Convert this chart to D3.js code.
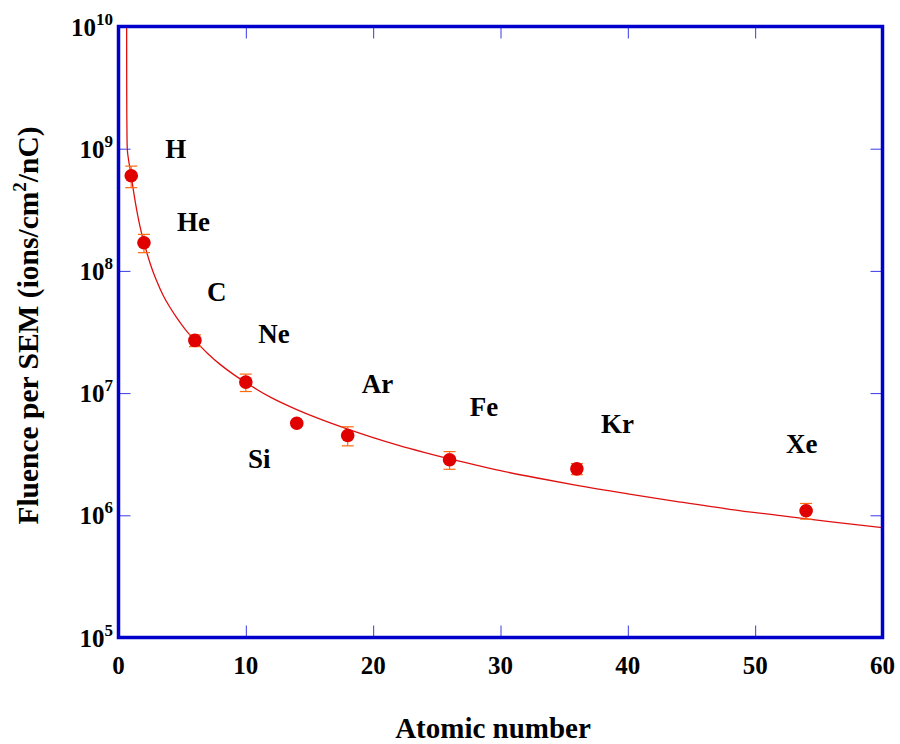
<!DOCTYPE html>
<html>
<head>
<meta charset="utf-8">
<script src="https://cdn.jsdelivr.net/npm/d3@7"></script>
<style>
  html, body { margin: 0; padding: 0; background: #fff; }
  svg { display: block; }
</style>
</head>
<body>
<svg id="chart" width="900" height="744" font-family="'Liberation Serif', 'Times New Roman', 'DejaVu Serif', serif" font-weight="bold"></svg>
<script>
// Measured fluence per SEM count for each ion species
const elements = ["H", "He", "C", "Ne", "Si", "Ar", "Fe", "Kr", "Xe"];
const atomicNumber = [1, 2, 6, 10, 14, 18, 26, 36, 54];
const fluence = [6.0e8, 1.7e8, 2.7e7, 1.23e7, 5.66e6, 4.5e6, 2.85e6, 2.4e6, 1.09e6];
const fluenceErr = [1.2e8, 0.29e8, 0.3e7, 0.2e7, 0, 0.8e6, 0.47e6, 0.25e6, 0.16e6];

// Where each element name sits (atomic number, fluence)
const labelZ = [4.49, 5.89, 7.72, 12.21, 11.06, 20.34, 28.7, 39.19, 53.66];
const labelF = [8.34e8, 2.12e8, 5.68e7, 2.58e7, 2.45e6, 9.95e6, 6.5e6, 4.69e6, 3.25e6];

// Fitted trend curve
const fitZ = [0.640, 0.642, 0.646, 0.654, 0.668, 0.69, 0.76, 0.88,
              1.0, 1.2, 1.5, 1.75, 2.0, 2.25, 2.5, 2.75, 3.0, 3.5,
              4.0, 4.5, 5.0, 5.5, 6, 7, 8, 9, 10, 12,
              14, 16, 18, 20, 22, 24, 26, 28, 30, 33,
              36, 40, 44, 48, 52, 56, 60];
const fitF = [1e10, 5.0e9, 2.82e9, 1.78e9, 1.26e9, 1.0e9, 8.51e8, 7.16e8,
              6.0e8, 4.35e8, 2.88e8, 2.17e8, 1.71e8, 1.38e8, 1.14e8, 9.62e7, 8.26e7, 6.32e7,
              5.11e7, 4.25e7, 3.59e7, 3.08e7, 2.70e7, 2.11e7, 1.71e7, 1.43e7, 1.22e7, 9.18e6,
              7.33e6, 6.04e6, 5.08e6, 4.33e6, 3.74e6, 3.28e6, 2.90e6, 2.59e6, 2.32e6, 2.01e6,
              1.76e6, 1.50e6, 1.29e6, 1.12e6, 9.93e5, 8.83e5, 7.93e5];

// Axis ticks
const xTicks = [0, 10, 20, 30, 40, 50, 60];
const yTickExp = [5, 6, 7, 8, 9, 10];

const svg = d3.select("#chart");
const plotL = 118.5, plotR = 882.5, plotT = 26.5, plotB = 637.5;

const x = d3.scaleLinear().domain([0, 60]).range([plotL, plotR]);
const y = d3.scaleLog().domain([1e5, 1e10]).range([plotB, plotT]);

const tickColor = "#3a3ae6";

// Inward tick marks on all four sides
const yTickVals = yTickExp.map(e => Math.pow(10, e));
function styleTicks(g) {
  g.select(".domain").remove();
  g.selectAll("line").attr("stroke", tickColor);
}
svg.append("g").attr("transform", `translate(${plotL},0)`)
  .call(d3.axisRight(y).tickValues(yTickVals).tickSize(12).tickFormat(""))
  .call(styleTicks);
svg.append("g").attr("transform", `translate(${plotR},0)`)
  .call(d3.axisLeft(y).tickValues(yTickVals).tickSize(12).tickFormat(""))
  .call(styleTicks);
svg.append("g").attr("transform", `translate(0,${plotB})`)
  .call(d3.axisTop(x).tickValues(xTicks).tickSize(12).tickFormat(""))
  .call(styleTicks);
svg.append("g").attr("transform", `translate(0,${plotT})`)
  .call(d3.axisBottom(x).tickValues(xTicks).tickSize(12).tickFormat(""))
  .call(styleTicks);

// Clip for the fitted curve
svg.append("clipPath").attr("id", "plotClip")
  .append("rect").attr("x", plotL).attr("y", plotT).attr("width", plotR - plotL).attr("height", plotB - plotT);

const fitPts = fitZ.map((z, i) => [x(z), y(fitF[i])]);
svg.append("path")
  .attr("clip-path", "url(#plotClip)")
  .attr("d", d3.line().curve(d3.curveMonotoneX)(fitPts))
  .attr("fill", "none")
  .attr("stroke", "#e01010")
  .attr("stroke-width", 1.3);

// Error bars
const errColor = "#ff6a10";
const eb = svg.append("g").attr("stroke", errColor).attr("stroke-width", 1.2);
atomicNumber.forEach((z, i) => {
  if (!fluenceErr[i]) return;
  const cx = x(z), y1 = y(fluence[i] + fluenceErr[i]), y2 = y(fluence[i] - fluenceErr[i]);
  eb.append("line").attr("x1", cx).attr("x2", cx).attr("y1", y1).attr("y2", y2);
  eb.append("line").attr("x1", cx - 6).attr("x2", cx + 6).attr("y1", y1).attr("y2", y1);
  eb.append("line").attr("x1", cx - 6).attr("x2", cx + 6).attr("y1", y2).attr("y2", y2);
});

// Data markers
svg.append("g").selectAll("circle")
  .data(atomicNumber)
  .join("circle")
  .attr("cx", d => x(d))
  .attr("cy", (d, i) => y(fluence[i]))
  .attr("r", 6.8)
  .attr("fill", "#e00000");

// Element names
svg.append("g").selectAll("text")
  .data(elements)
  .join("text")
  .attr("x", (d, i) => x(labelZ[i]))
  .attr("y", (d, i) => y(labelF[i]))
  .attr("text-anchor", "middle")
  .attr("font-size", 27)
  .text(d => d);

// Plot frame
svg.append("rect")
  .attr("x", plotL).attr("y", plotT)
  .attr("width", plotR - plotL).attr("height", plotB - plotT)
  .attr("fill", "none")
  .attr("stroke", "#0000cc")
  .attr("stroke-width", 3.5);

// X tick labels
svg.append("g").selectAll("text")
  .data(xTicks)
  .join("text")
  .attr("x", d => x(d))
  .attr("y", 674)
  .attr("text-anchor", "middle")
  .attr("font-size", 25)
  .text(d => d);

// Y tick labels: 10 with superscript exponent
const yl = svg.append("g").selectAll("text")
  .data(yTickExp)
  .join("text")
  .attr("x", 113)
  .attr("y", d => y(Math.pow(10, d)) + 9)
  .attr("text-anchor", "end")
  .attr("font-size", 25);
yl.append("tspan").text("10");
yl.append("tspan").attr("font-size", 17).attr("dy", -11).text(d => d);

// Axis titles
svg.append("text")
  .attr("x", 493).attr("y", 738)
  .attr("text-anchor", "middle")
  .attr("font-size", 29)
  .text("Atomic number");

const yt = svg.append("text")
  .attr("transform", "translate(38,325.5) rotate(-90)")
  .attr("text-anchor", "middle")
  .attr("font-size", 29.5);
yt.append("tspan").text("Fluence per SEM (ions/cm");
yt.append("tspan").attr("font-size", 19).attr("dy", -12).text("2");
yt.append("tspan").attr("dy", 12).text("/nC)");
</script>
</body>
</html>
